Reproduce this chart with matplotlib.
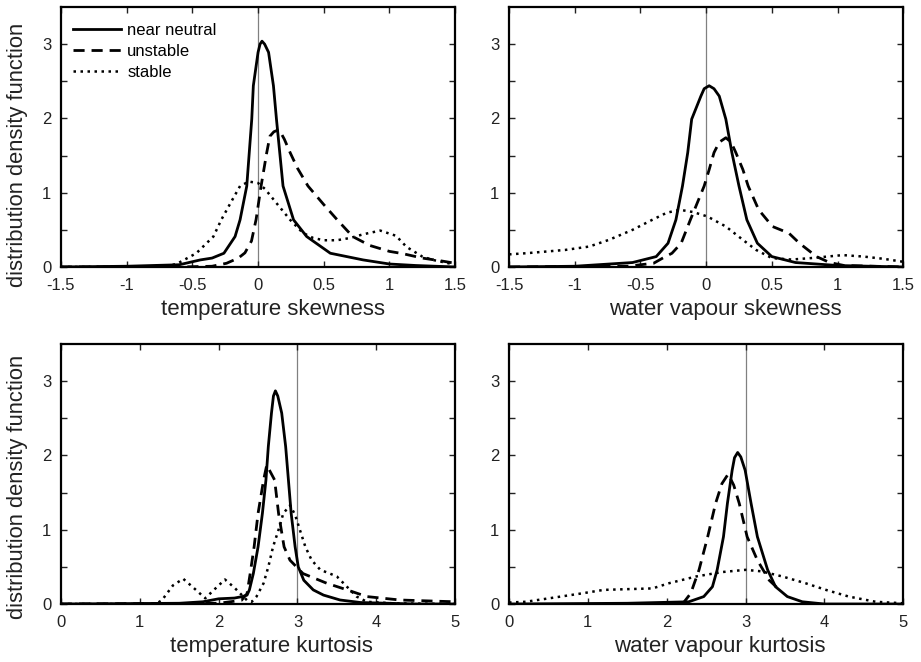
import matplotlib
matplotlib.use("Agg")
import matplotlib.pyplot as plt

plt.rcParams['font.family'] = ['Liberation Sans', 'DejaVu Sans']
plt.rcParams['axes.unicode_minus'] = False

# --- temperature skewness ---
ts_neutral_x = [-1.5, -1.0, -0.6, -0.44, -0.35, -0.26, -0.175, -0.137, -0.086, -0.048, -0.036, 0.0, 0.015, 0.03, 0.05, 0.08, 0.117, 0.14, 0.19, 0.27, 0.37, 0.55, 0.8, 1.0, 1.2, 1.5]
ts_neutral_y = [0.0, 0.01, 0.03, 0.095, 0.12, 0.185, 0.41, 0.635, 1.09, 1.99, 2.44, 2.89, 3.0, 3.04, 3.0, 2.89, 2.44, 1.99, 1.09, 0.635, 0.41, 0.185, 0.095, 0.04, 0.02, 0.0]
ts_unstable_x = [-1.5, -0.6, -0.35, -0.24, -0.15, -0.1, -0.05, -0.015, 0.023, 0.066, 0.09, 0.12, 0.16, 0.2, 0.244, 0.3, 0.38, 0.5, 0.6, 0.72, 0.85, 1.0, 1.1, 1.25, 1.4, 1.5]
ts_unstable_y = [0.0, 0.0, 0.01, 0.05, 0.12, 0.19, 0.35, 0.64, 1.09, 1.54, 1.76, 1.82, 1.85, 1.72, 1.54, 1.33, 1.09, 0.84, 0.64, 0.41, 0.29, 0.21, 0.18, 0.12, 0.08, 0.05]
ts_stable_x = [-1.5, -0.7, -0.61, -0.47, -0.34, -0.28, -0.21, -0.137, -0.07, 0.0, 0.053, 0.14, 0.244, 0.34, 0.42, 0.5, 0.6, 0.7, 0.8, 0.93, 1.05, 1.13, 1.25, 1.33, 1.45, 1.5]
ts_stable_y = [0.0, 0.0, 0.05, 0.185, 0.41, 0.635, 0.86, 1.09, 1.15, 1.13, 1.05, 0.86, 0.635, 0.46, 0.39, 0.36, 0.36, 0.39, 0.44, 0.49, 0.42, 0.27, 0.14, 0.095, 0.05, 0.03]

# --- water vapour skewness ---
ws_neutral_x = [-1.5, -1.0, -0.56, -0.38, -0.29, -0.23, -0.18, -0.14, -0.11, -0.04, -0.015, 0.023, 0.06, 0.1, 0.15, 0.196, 0.25, 0.31, 0.39, 0.5, 0.68, 1.0, 1.5]
ws_neutral_y = [0.0, 0.01, 0.06, 0.14, 0.32, 0.635, 1.09, 1.54, 1.99, 2.3, 2.4, 2.44, 2.4, 2.3, 1.99, 1.54, 1.09, 0.635, 0.32, 0.14, 0.06, 0.02, 0.0]
ws_unstable_x = [-1.5, -0.6, -0.4, -0.33, -0.26, -0.19, -0.12, -0.015, 0.023, 0.06, 0.1, 0.15, 0.19, 0.226, 0.28, 0.32, 0.4, 0.505, 0.63, 0.71, 0.84, 0.94, 1.05, 1.5]
ws_unstable_y = [0.0, 0.01, 0.05, 0.12, 0.185, 0.32, 0.635, 1.09, 1.31, 1.54, 1.68, 1.74, 1.68, 1.54, 1.31, 1.09, 0.77, 0.545, 0.455, 0.32, 0.14, 0.06, 0.02, 0.0]
ws_stable_x = [-1.5, -1.37, -1.07, -0.89, -0.74, -0.56, -0.41, -0.3, -0.2, -0.1, 0.01, 0.15, 0.28, 0.38, 0.5, 0.65, 0.8, 0.92, 1.04, 1.2, 1.35, 1.5]
ws_stable_y = [0.17, 0.185, 0.23, 0.275, 0.365, 0.5, 0.635, 0.73, 0.77, 0.74, 0.68, 0.545, 0.365, 0.23, 0.12, 0.1, 0.12, 0.14, 0.16, 0.14, 0.11, 0.07]

# --- temperature kurtosis ---
tk_neutral_x = [0.0, 1.5, 1.8, 2.0, 2.2, 2.3, 2.36, 2.39, 2.44, 2.5, 2.555, 2.6, 2.63, 2.67, 2.695, 2.72, 2.75, 2.8, 2.85, 2.885, 2.92, 2.97, 3.01, 3.08, 3.2, 3.33, 3.54, 3.8, 4.5, 5.0]
tk_neutral_y = [0.0, 0.01, 0.03, 0.07, 0.08, 0.1, 0.12, 0.19, 0.41, 0.77, 1.22, 1.67, 2.12, 2.57, 2.8, 2.87, 2.8, 2.57, 2.12, 1.67, 1.22, 0.77, 0.5, 0.32, 0.19, 0.12, 0.054, 0.02, 0.0, 0.0]
tk_unstable_x = [0.0, 2.0, 2.29, 2.36, 2.4, 2.45, 2.5, 2.57, 2.61, 2.71, 2.76, 2.83, 2.905, 3.07, 3.37, 3.63, 3.88, 4.3, 5.0]
tk_unstable_y = [0.0, 0.01, 0.05, 0.14, 0.41, 0.77, 1.22, 1.67, 1.87, 1.67, 1.22, 0.77, 0.59, 0.41, 0.28, 0.19, 0.1, 0.054, 0.03]
tk_stable_x = [0.0, 1.2, 1.28, 1.42, 1.55, 1.68, 1.83, 1.95, 2.08, 2.2, 2.36, 2.42, 2.48, 2.57, 2.63, 2.69, 2.76, 2.82, 2.906, 2.97, 3.03, 3.1, 3.18, 3.29, 3.41, 3.5, 3.63, 3.75, 3.88, 4.2, 5.0]
tk_stable_y = [0.0, 0.0, 0.05, 0.25, 0.34, 0.22, 0.077, 0.2, 0.33, 0.22, 0.05, 0.03, 0.1, 0.28, 0.5, 0.77, 1.0, 1.22, 1.33, 1.2, 1.0, 0.77, 0.59, 0.46, 0.41, 0.37, 0.23, 0.1, 0.03, 0.01, 0.0]

# --- water vapour kurtosis ---
wk_neutral_x = [0.0, 1.5, 2.28, 2.47, 2.58, 2.64, 2.72, 2.77, 2.83, 2.86, 2.9, 2.94, 2.995, 3.07, 3.15, 3.28, 3.38, 3.53, 3.72, 4.0, 5.0]
wk_neutral_y = [0.0, 0.01, 0.03, 0.1, 0.233, 0.46, 0.906, 1.355, 1.8, 1.97, 2.04, 1.98, 1.8, 1.355, 0.906, 0.46, 0.233, 0.1, 0.03, 0.0, 0.0]
wk_unstable_x = [2.2, 2.305, 2.41, 2.52, 2.62, 2.7, 2.78, 2.85, 2.92, 3.02, 3.15, 3.3, 3.42]
wk_unstable_y = [0.0, 0.144, 0.46, 0.906, 1.355, 1.62, 1.75, 1.6, 1.355, 0.906, 0.59, 0.32, 0.2]
wk_stable_x = [0.0, 0.21, 0.51, 0.93, 1.2, 1.5, 1.82, 2.03, 2.37, 2.7, 3.0, 3.2, 3.47, 3.76, 4.02, 4.31, 4.65, 5.0]
wk_stable_y = [0.02, 0.03, 0.077, 0.144, 0.19, 0.2, 0.21, 0.28, 0.37, 0.43, 0.46, 0.44, 0.37, 0.28, 0.19, 0.1, 0.03, 0.01]

labels = ['near neutral', 'unstable', 'stable']

panels = [
    dict(pos=[0.0662, 0.5967, 0.428, 0.3927], xlim=(-1.5, 1.5), xticks=[-1.5, -1, -0.5, 0, 0.5, 1, 1.5],
         xticklabels=['-1.5', '-1', '-0.5', '0', '0.5', '1', '1.5'], vline=0, xlabel='temperature skewness',
         xlab_x=0.538, ylab_y=0.43,
         data=[(ts_neutral_x, ts_neutral_y), (ts_unstable_x, ts_unstable_y), (ts_stable_x, ts_stable_y)]),
    dict(pos=[0.5527, 0.5967, 0.428, 0.3927], xlim=(-1.5, 1.5), xticks=[-1.5, -1, -0.5, 0, 0.5, 1, 1.5],
         xticklabels=['-1.5', '-1', '-0.5', '0', '0.5', '1', '1.5'], vline=0, xlabel='water vapour skewness',
         xlab_x=0.55, ylab_y=0.43,
         data=[(ws_neutral_x, ws_neutral_y), (ws_unstable_x, ws_unstable_y), (ws_stable_x, ws_stable_y)]),
    dict(pos=[0.0662, 0.0876, 0.428, 0.3927], xlim=(0, 5), xticks=[0, 1, 2, 3, 4, 5],
         xticklabels=['0', '1', '2', '3', '4', '5'], vline=3, xlabel='temperature kurtosis',
         xlab_x=0.533, ylab_y=0.45,
         data=[(tk_neutral_x, tk_neutral_y), (tk_unstable_x, tk_unstable_y), (tk_stable_x, tk_stable_y)]),
    dict(pos=[0.5527, 0.0876, 0.428, 0.3927], xlim=(0, 5), xticks=[0, 1, 2, 3, 4, 5],
         xticklabels=['0', '1', '2', '3', '4', '5'], vline=3, xlabel='water vapour kurtosis',
         xlab_x=0.535, ylab_y=0.45,
         data=[(wk_neutral_x, wk_neutral_y), (wk_unstable_x, wk_unstable_y), (wk_stable_x, wk_stable_y)]),
]

styles = [dict(ls='-', lw=2.0),
          dict(ls=(0, (4, 2.5)), lw=2.0),
          dict(ls=(0, (1, 1.8)), lw=1.8)]

fig = plt.figure(figsize=(9.21, 6.62), dpi=100)

for i, p in enumerate(panels):
    ax = fig.add_axes(p['pos'])
    ax.axvline(p['vline'], color='#808080', lw=0.9, zorder=1)
    for (x, y), st, lab in zip(p['data'], styles, labels):
        ax.plot(x, y, color='black', linestyle=st['ls'], lw=st['lw'], label=lab, zorder=2,
                solid_joinstyle='round')
    ax.set_xlim(p['xlim'])
    ax.set_ylim(0, 3.5)
    ax.set_xticks(p['xticks'])
    ax.set_xticklabels(p['xticklabels'])
    ax.set_yticks([0, 1, 2, 3])
    ax.set_yticks([0.5, 1.5, 2.5], minor=True)
    ax.tick_params(which='both', direction='in', top=True, right=True, length=4, width=1, labelsize=12, colors='#222222')
    ax.tick_params(axis='x', pad=8)
    ax.tick_params(axis='y', pad=7)
    for s in ax.spines.values():
        s.set_linewidth(1.6)
    ax.set_xlabel(p['xlabel'], fontsize=16, color='#222222', va='center')
    ax.xaxis.set_label_coords(p['xlab_x'], -0.162)
    if i % 2 == 0:
        ax.set_ylabel('distribution density function', fontsize=15.8, color='#222222', va='center')
        ax.yaxis.set_label_coords(-0.11, p['ylab_y'])
    if i == 0:
        ax.legend(loc='upper left', bbox_to_anchor=(0.03, 0.94), frameon=False, fontsize=12,
                  handlelength=2.9, handletextpad=0.36, labelspacing=0.38, borderaxespad=0, borderpad=0)

plt.savefig('out.png', dpi=100)
